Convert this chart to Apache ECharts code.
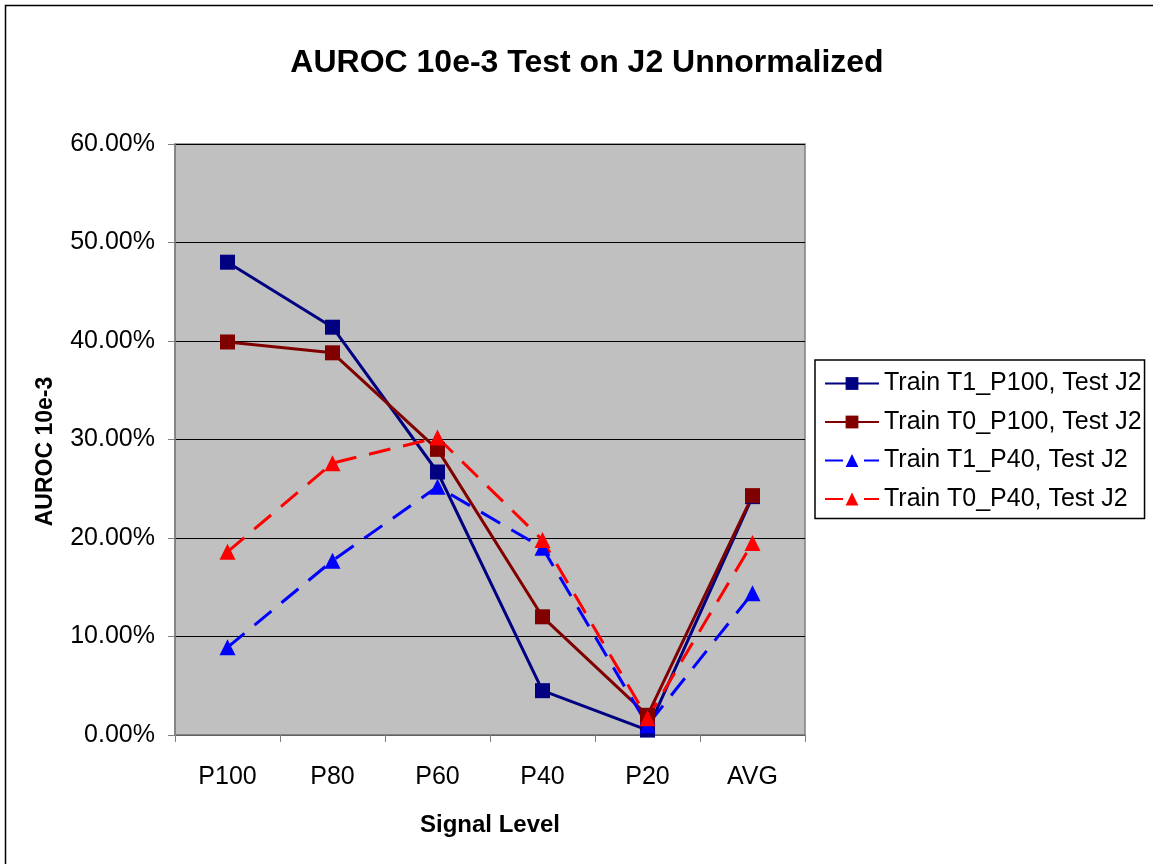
<!DOCTYPE html>
<html><head><meta charset="utf-8">
<script src="https://cdn.jsdelivr.net/npm/echarts@6/dist/echarts.min.js"></script>
<style>html,body{margin:0;padding:0;background:#fff}#c{width:1153px;height:864px}</style>
</head><body><div id="c"></div>
<script>
const categories = ['P100','P80','P60','P40','P20','AVG'];
const seriesNames = ['Train T1_P100, Test J2','Train T0_P100, Test J2','Train T1_P40, Test J2','Train T0_P40, Test J2'];
const t1P100 = [48.0, 41.4, 26.7, 4.5, 0.5, 24.2];
const t0P100 = [39.9, 38.8, 29.0, 12.0, 2.0, 24.3];
const t1P40 = [8.9, 17.7, 25.2, 19.0, 1.0, 14.4];
const t0P40 = [18.6, 27.6, 30.2, 19.8, 1.7, 19.5];
const yTicks = [0, 10, 20, 30, 40, 50, 60];

const font = '"Liberation Sans", Arial, sans-serif';
const chart = echarts.init(document.getElementById('c'), null, {renderer:'canvas'});
function mk(name, data, color, symbol, size, dashed){
  return {
    name, type:'line', data, symbol, symbolSize:size, showSymbol:true,
    lineStyle:{color, width:3, type: dashed ? [22,13] : 'solid'},
    itemStyle:{color, borderColor:color, borderWidth:0},
    emphasis:{disabled:true}, animation:false
  };
}
chart.setOption({
  animation:false,
  graphic:[{type:'rect', shape:{x:5.5,y:5.5,width:1160,height:870}, style:{fill:null, stroke:'#000', lineWidth:1.5}, silent:true}],
  title:{text:'AUROC 10e-3 Test on J2 Unnormalized', left:582, top:42, textAlign:'center',
    textStyle:{fontFamily:font, fontSize:32, fontWeight:'bold', color:'#000'}},
  grid:{left:175, top:144, width:630, height:591, show:true, backgroundColor:'#C0C0C0', borderColor:'#808080', borderWidth:1.5},
  legend:{
    orient:'vertical', left:815, top:360, padding:[11,3,7,9], itemGap:13.5,
    backgroundColor:'#fff', borderColor:'#000', borderWidth:1.5,
    itemWidth:54, itemHeight:16,
    textStyle:{fontFamily:font, fontSize:25, color:'#000'},
    data:[
      {name:seriesNames[0]},
      {name:seriesNames[1]},
      {name:seriesNames[2], lineStyle:{type:[18,21]}},
      {name:seriesNames[3], lineStyle:{type:[18,21]}}
    ]
  },
  xAxis:{
    type:'category', data:categories, boundaryGap:true,
    name:'Signal Level', nameLocation:'middle', nameGap:78,
    nameTextStyle:{fontFamily:font, fontSize:24, fontWeight:'bold', color:'#000'},
    axisLine:{lineStyle:{color:'#808080', width:1.5}},
    axisTick:{show:true, alignWithLabel:false, length:7, lineStyle:{color:'#808080'}},
    axisLabel:{fontFamily:font, fontSize:25, color:'#000', margin:30},
    splitLine:{show:false}
  },
  yAxis:{
    type:'value', min:0, max:60, interval:10,
    name:'AUROC 10e-3', nameLocation:'middle', nameGap:118, nameRotate:90,
    nameTextStyle:{fontFamily:font, fontSize:23, fontWeight:'bold', color:'#000', padding:[0,24,0,0]},
    axisLine:{show:true, lineStyle:{color:'#808080', width:1.5}},
    axisTick:{show:true, length:7, lineStyle:{color:'#808080'}},
    axisLabel:{fontFamily:font, fontSize:25, color:'#000', margin:20,
      formatter:v => yTicks.includes(v) ? v.toFixed(2)+'%' : ''},
    splitLine:{show:true, lineStyle:{color:'#000', width:1}}
  },
  series:[
    mk(seriesNames[0], t1P100, '#000080', 'rect', 15, false),
    mk(seriesNames[1], t0P100, '#800000', 'rect', 15, false),
    mk(seriesNames[2], t1P40, '#0000FF', 'triangle', 16, true),
    mk(seriesNames[3], t0P40, '#FF0000', 'triangle', 16, true)
  ]
});
</script></body></html>
